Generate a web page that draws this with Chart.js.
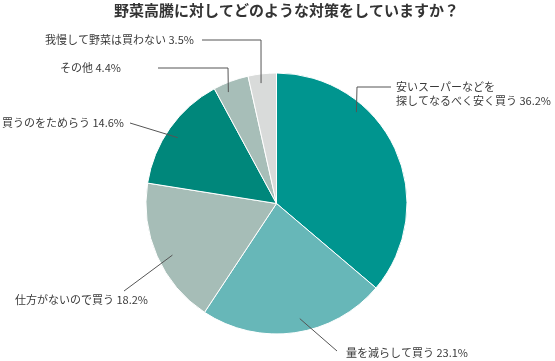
<!DOCTYPE html>
<html>
<head>
<meta charset="utf-8">
<script src="https://cdn.jsdelivr.net/npm/chart.js"></script>
<style>
    html, body { margin: 0; padding: 0; background: #fff; }
    #wrap { width: 555px; height: 361px; }
</style>
</head>
<body>
<div id="wrap"><canvas id="pieChart" width="555" height="361"></canvas></div>
<script>
    const TITLE = '野菜高騰に対してどのような対策をしていますか？';
    const categories = [
        ['安いスーパーなどを', '探してなるべく安く買う'],
        ['量を減らして買う'],
        ['仕方がないので買う'],
        ['買うのをためらう'],
        ['その他'],
        ['我慢して野菜は買わない']
    ];
    const values = [36.2, 23.1, 18.2, 14.6, 4.4, 3.5];
    const colors = ['#00958f', '#67b7b8', '#a6bdb7', '#00877b', '#a7beb8', '#d9dbda'];

    const FONT = '"Noto Sans CJK JP", "Noto Sans", sans-serif';

    // where each leader line starts inside its slice (t = along the angle, rf = radius fraction)
    // and where it goes / where the text sits
    const labelLayout = [
        { t: 0.316, rf: 0.93, path: [[357, 87]], end: [391, 87], tx: 396, ty: 87, lh: 14 },
        { t: 0.46, rf: 0.90, path: [], end: [337, 351], tx: 346, ty: 353, lh: 14 },
        { t: 0.46, rf: 0.89, path: [], end: [124, 291], tx: 15, ty: 300, lh: 14 },
        { t: 0.47, rf: 0.91, path: [], end: [130, 123], tx: 2, ty: 123, lh: 14 },
        { t: 0.32, rf: 0.93, path: [[228, 68]], end: [158, 68], tx: 60, ty: 68, lh: 14 },
        { t: 0.42, rf: 0.93, path: [[261, 40]], end: [202, 40], tx: 45, ty: 40, lh: 14 }
    ];

    const leaderLabels = {
        id: 'leaderLabels',
        afterDraw(chart) {
            const ctx = chart.ctx;
            const arcs = chart.getDatasetMeta(0).data;
            ctx.save();

            // title, drawn here so it is not squeezed into the pie's box
            ctx.fillStyle = '#333';
            ctx.font = 'bold 15px ' + FONT;
            ctx.textAlign = 'left';
            ctx.textBaseline = 'middle';
            ctx.fillText(TITLE, 114, 10.5);

            arcs.forEach((arc, i) => {
                const lay = labelLayout[i];
                const p = arc.getProps(['x', 'y', 'startAngle', 'endAngle', 'outerRadius'], true);
                const a = p.startAngle + lay.t * (p.endAngle - p.startAngle);
                const r = p.outerRadius * lay.rf;
                ctx.beginPath();
                ctx.strokeStyle = '#555';
                ctx.lineWidth = 1;
                ctx.moveTo(p.x + r * Math.cos(a), p.y + r * Math.sin(a));
                lay.path.forEach(pt => ctx.lineTo(pt[0], pt[1]));
                ctx.lineTo(lay.end[0], lay.end[1]);
                ctx.stroke();

                ctx.fillStyle = '#3a3a3a';
                ctx.font = '11px ' + FONT;
                ctx.textAlign = 'left';
                ctx.textBaseline = 'middle';
                const lines = categories[i].slice();
                lines[lines.length - 1] += ' ' + values[i] + '%';
                lines.forEach((ln, k) => ctx.fillText(ln, lay.tx, lay.ty + k * lay.lh));
            });
            ctx.restore();
        }
    };

    new Chart(document.getElementById('pieChart'), {
        type: 'pie',
        data: {
            labels: categories.map(c => c.join('')),
            datasets: [{
                data: values,
                backgroundColor: colors,
                borderColor: '#ffffff',
                borderWidth: 1
            }]
        },
        options: {
            responsive: false,
            animation: false,
            events: [],
            layout: {
                padding: { left: 145.5, right: 147.5, top: 72.5, bottom: 26.5 }
            },
            plugins: {
                legend: { display: false },
                tooltip: { enabled: false },
                title: { display: false }
            }
        },
        plugins: [leaderLabels]
    });
</script>
</body>
</html>
